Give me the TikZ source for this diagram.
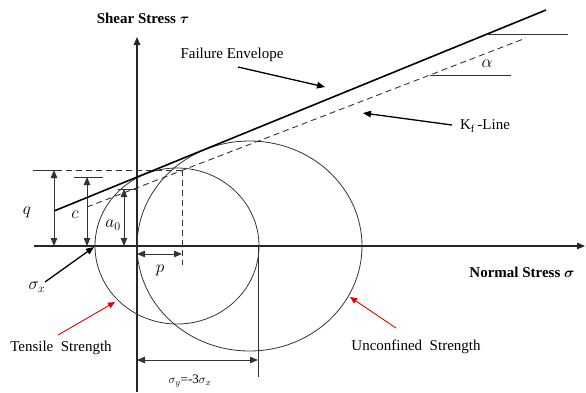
\documentclass[tikz,border=0pt]{standalone}
\usepackage{amsmath}
\usepackage{fontspec}
\setmainfont{Liberation Serif}
\usetikzlibrary{arrows.meta}
\begin{document}
\begin{tikzpicture}[x=1pt,y=-1pt,
  axisline/.style={line width=1.1pt,draw=black!85},
  circ/.style={line width=0.8pt,draw=black!80},
  envline/.style={line width=1.6pt,draw=black},
  kfline/.style={line width=0.9pt,draw=black!80,dash pattern=on 6pt off 4pt},
  thin/.style={line width=0.9pt,draw=black!80},
  dashthin/.style={line width=0.9pt,draw=black!80,dash pattern=on 6pt off 4pt},
  tip/.style={-{Triangle[length=8pt,width=6.5pt]}},
  dtip/.style={{Triangle[length=8pt,width=6.5pt]}-{Triangle[length=8pt,width=6.5pt]}},
  lbl/.style={font=\fontsize{15}{17}\selectfont,inner sep=0pt},
  blbl/.style={font=\fontsize{15}{17}\selectfont\bfseries,inner sep=0pt},
  mlbl/.style={font=\fontsize{16.5}{19}\selectfont,inner sep=0pt},
  redarrow/.style={draw=red!90!black,line width=0.9pt,-{Triangle[length=7pt,width=6pt]}}
]
\useasboundingbox (0,0) rectangle (586,392);
% coordinates
\coordinate (O) at (137,246);
\coordinate (xend) at (585,246);
\coordinate (xstart) at (34,246);
\coordinate (ybot) at (137,392);
\coordinate (ytop) at (137,37);
% axes
\draw[axisline,tip] (xstart) -- (xend);
\draw[axisline,tip] (ybot) -- (ytop);
% circles
\draw[circ] (177,246) ellipse [x radius=82pt, y radius=78pt];
\draw[circ] (249.5,246) ellipse [x radius=112.5pt, y radius=105pt];
% envelope and Kf line
\coordinate (e1) at (54,211);
\coordinate (e2) at (546,10);
\draw[envline] (e1) -- (e2);
\coordinate (k1) at (87,207);
\coordinate (k2) at (526,38);
\draw[kfline] (k1) -- (k2);
% alpha lines
\coordinate (h1a) at (487,34); \coordinate (h1b) at (568,34);
\coordinate (h2a) at (430,75); \coordinate (h2b) at (511,75);
\draw[thin] (h1a) -- (h1b);
\draw[thin] (h2a) -- (h2b);
\node[mlbl] (alpha) at (487,64) {$\alpha$};
% top dashed line and vertical dashed
\coordinate (t0) at (33,170); \coordinate (t1) at (56,170); \coordinate (t2) at (182,170);
\coordinate (t3) at (182,265);
\draw[thin] (t0) -- (t1);
\draw[dashthin] (t1) -- (t2);
\draw[dashthin] (t2) -- (t3);
% q
\coordinate (q1) at (54,170); \coordinate (q2) at (54,246);
\draw[thin,dtip] (q1) -- (q2);
\node[mlbl] (q) at (27,212) {$q$};
% c
\coordinate (c0) at (74,177); \coordinate (c3) at (103,177);
\draw[thin] (c0) -- (c3);
\coordinate (c1) at (87,177); \coordinate (c2) at (87,246);
\draw[thin,dtip] (c1) -- (c2);
\node[mlbl] (c) at (75,215) {$c$};
% a0
\coordinate (a0l) at (118,189); \coordinate (a0r) at (138,189);
\draw[thin] (a0l) -- (a0r);
\coordinate (a1) at (124,189); \coordinate (a2) at (124,246);
\draw[thin,dtip] (a1) -- (a2);
\node[mlbl] (a0) at (113,225) {$a_0$};
% p
\coordinate (p1) at (137,254); \coordinate (p2) at (182,254);
\draw[thin,dtip] (p1) -- (p2);
\node[mlbl] (p) at (160,270) {$p$};
% sigma x
\coordinate (sx1) at (45,282); \coordinate (sx2) at (94,247);
\draw[line width=1.3pt,tip] (sx1) -- (sx2);
\node[mlbl] (sx) at (37,287) {$\sigma_x$};
% sigma y
\coordinate (sy0) at (258,246); \coordinate (sy3) at (258,377);
\draw[thin] (sy0) -- (sy3);
\coordinate (sy1) at (137,360); \coordinate (sy2) at (258,360);
\draw[thin,dtip] (sy1) -- (sy2);
\node[font=\fontsize{13}{15}\selectfont,inner sep=0pt] (sy) at (190,381) {$\sigma_y$=-3$\sigma_x$};
% labels
\node[blbl] (tau) at (143,18) {Shear Stress $\boldsymbol{\tau}$};
\node[blbl] (sig) at (522,272) {Normal Stress $\boldsymbol{\sigma}$};
\node[lbl] (fe) at (232,55) {Failure Envelope};
\coordinate (fe1) at (238,67); \coordinate (fe2) at (325,87);
\draw[line width=1.3pt,tip] (fe1) -- (fe2);
\node[lbl] (kf) at (485,126) {K$_\mathrm{f}$\,-Line};
\coordinate (kf1) at (452,125); \coordinate (kf2) at (363,113);
\draw[line width=1.3pt,tip] (kf1) -- (kf2);
\node[lbl] (ts) at (61,348) {Tensile\ \ Strength};
\coordinate (ts1) at (58,335); \coordinate (ts2) at (115,302);
\draw[redarrow] (ts1) -- (ts2);
\node[lbl] (us) at (416,347) {Unconfined\ \ Strength};
\coordinate (us1) at (396,328); \coordinate (us2) at (350,297);
\draw[redarrow] (us1) -- (us2);
\end{tikzpicture}
\end{document}
